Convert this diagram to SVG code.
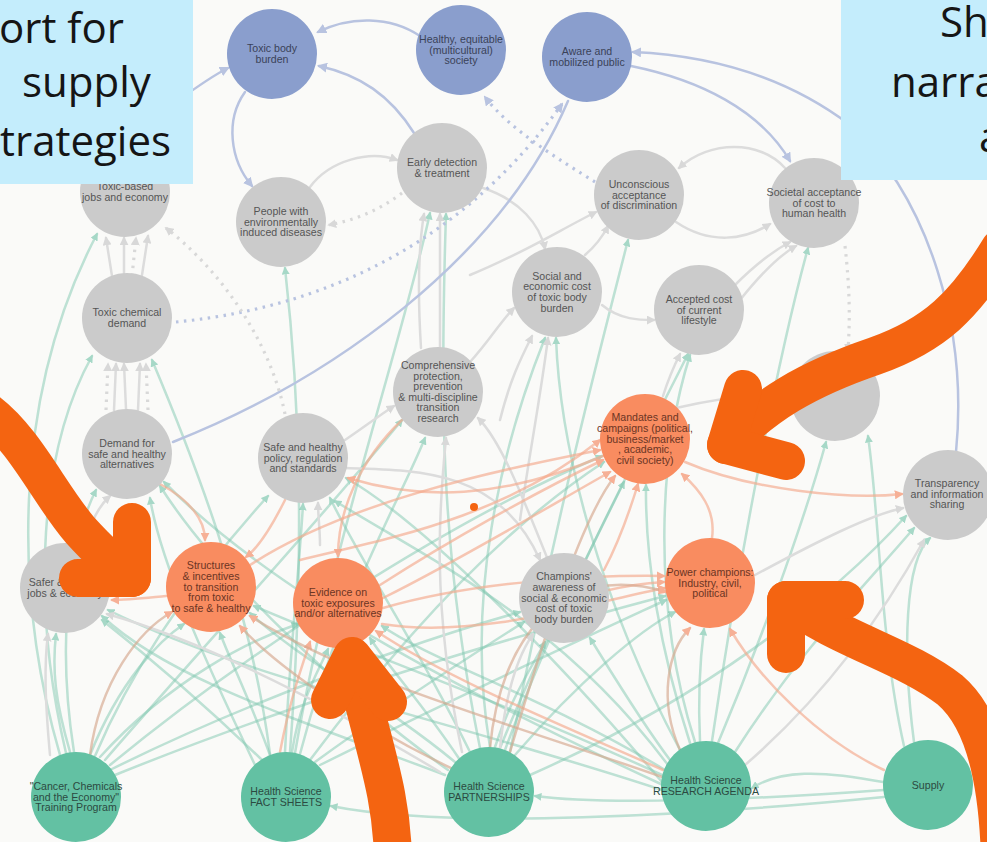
<svg xmlns="http://www.w3.org/2000/svg" width="987" height="842" viewBox="0 0 987 842">
  <style>
    .c { fill: none; stroke-width: 2.5; stroke-linecap: round; }
    .tl { stroke: #7fc8b0; stroke-opacity: 0.5; }
    .gr { stroke: #dcdcdc; }
    .or { stroke: #f4a98c; stroke-opacity: 0.65; }
    .br { stroke: #d6a88e; stroke-opacity: 0.65; }
    .bl { stroke: #b8c3e0; }
    .dg { stroke: #d8d8d8; stroke-width: 3.2; stroke-dasharray: 2.5 5.5; stroke-linecap: butt; }
    .db { stroke: #b8c3e0; stroke-width: 3.2; stroke-dasharray: 2.5 5.5; stroke-linecap: butt; }
    .n text { font-family: "Liberation Sans", Arial, sans-serif; font-size: 10.6px; text-anchor: middle; }
    .blue circle { fill: #8a9ecd; }
    .blue text { fill: #3a4258; }
    .grey circle { fill: #cbcbcb; }
    .grey text { fill: #555555; }
    .orange circle { fill: #f98c60; }
    .orange text { fill: #6b3524; }
    .teal circle { fill: #63c1a3; }
    .teal text { fill: #2c4a41; }
    .note { fill: #c4edfc; }
    .note-text { font-family: "Open Sans", "Liberation Sans", sans-serif; font-size: 42px; fill: #151515; }
    .pen { fill: none; stroke: #f46411; stroke-width: 38; stroke-linecap: round; stroke-linejoin: round; }
  </style>
  <defs>
    <marker id="aT" viewBox="0 0 10 10" refX="8" refY="5" markerWidth="8" markerHeight="8" markerUnits="userSpaceOnUse" orient="auto"><path d="M0,0 L10,5 L0,10 z" fill="#a6d8c7"/></marker>
    <marker id="aG" viewBox="0 0 10 10" refX="8" refY="5" markerWidth="9" markerHeight="9" markerUnits="userSpaceOnUse" orient="auto"><path d="M0,0 L10,5 L0,10 z" fill="#d8d8d8"/></marker>
    <marker id="aO" viewBox="0 0 10 10" refX="8" refY="5" markerWidth="9" markerHeight="9" markerUnits="userSpaceOnUse" orient="auto"><path d="M0,0 L10,5 L0,10 z" fill="#f6b096"/></marker>
    <marker id="aB" viewBox="0 0 10 10" refX="8" refY="5" markerWidth="10" markerHeight="10" markerUnits="userSpaceOnUse" orient="auto"><path d="M0,0 L10,5 L0,10 z" fill="#b8c3e0"/></marker>
  </defs>

  <rect width="987" height="842" fill="#fafaf8"/>

  <!-- connectors -->
  <g id="connectors">
    <!-- teal: program nodes to outcomes -->
    <g class="c tl" marker-end="url(#aT)">
      <path d="M60,755 C15,600 10,400 97,234"/>
      <path d="M66,753 C30,600 40,450 92,356"/>
      <path d="M74,752 C58,650 66,550 96,490"/>
      <path d="M70,752 C55,700 52,670 56,634"/>
      <path d="M90,755 C120,680 160,640 184,624"/>
      <path d="M100,757 C170,680 250,640 298,624"/>
      <path d="M95,756 C140,650 210,560 268,496"/>
      <path d="M105,760 C200,650 320,520 402,420"/>
      <path d="M110,765 C250,650 450,520 602,456"/>
      <path d="M110,770 C250,700 420,640 520,612"/>
      <path d="M115,775 C300,700 500,640 665,596"/>
      <path d="M270,755 C250,700 230,660 220,633"/>
      <path d="M262,760 C200,700 140,650 102,620"/>
      <path d="M255,765 C200,650 160,560 150,498"/>
      <path d="M270,754 C250,600 190,450 152,360"/>
      <path d="M285,752 C290,650 300,560 303,504"/>
      <path d="M290,752 C305,550 300,400 285,268"/>
      <path d="M295,753 C330,550 400,350 430,213"/>
      <path d="M300,754 C340,600 400,500 425,438"/>
      <path d="M292,752 C300,700 318,672 328,649"/>
      <path d="M310,760 C400,640 500,530 604,462"/>
      <path d="M320,765 C450,700 580,640 666,600"/>
      <path d="M315,762 C400,700 480,650 524,622"/>
      <path d="M455,762 C380,700 300,660 250,613"/>
      <path d="M460,760 C420,700 392,672 370,638"/>
      <path d="M495,747 C510,700 530,670 545,642"/>
      <path d="M490,747 C465,600 500,450 545,338"/>
      <path d="M480,748 C440,550 440,400 446,214"/>
      <path d="M500,748 C540,650 590,550 624,482"/>
      <path d="M515,755 C580,680 640,630 675,612"/>
      <path d="M530,775 C700,700 830,600 906,516"/>
      <path d="M505,750 C560,600 640,450 688,354"/>
      <path d="M445,775 C300,720 170,680 102,616"/>
      <path d="M448,770 C350,700 220,580 160,486"/>
      <path d="M470,752 C420,650 360,560 330,498"/>
      <path d="M510,752 C560,500 600,350 628,240"/>
      <path d="M662,775 C500,700 330,640 254,606"/>
      <path d="M665,770 C550,700 430,660 382,626"/>
      <path d="M670,760 C640,720 610,670 590,638"/>
      <path d="M700,741 C698,700 700,660 704,629"/>
      <path d="M690,743 C660,650 645,560 646,485"/>
      <path d="M695,742 C650,600 660,450 690,355"/>
      <path d="M712,741 C740,550 780,350 808,248"/>
      <path d="M718,743 C770,620 810,500 826,442"/>
      <path d="M735,752 C800,650 870,580 914,528"/>
      <path d="M662,782 C550,650 420,520 346,478"/>
      <path d="M680,750 C600,600 560,450 556,338"/>
      <path d="M662,790 C450,720 250,680 108,610"/>
      <path d="M663,785 C480,700 280,600 164,482"/>
      <path d="M668,765 C560,620 430,560 335,501"/>
      <path d="M914,742 C902,650 905,560 930,538"/>
      <path d="M904,746 C880,640 880,520 868,436"/>
      <path d="M884,790 C750,800 600,805 535,796"/>
      <path d="M884,797 C700,815 450,830 331,806"/>
      <path d="M883,782 C820,770 780,770 752,788"/>
    </g>

    <!-- grey feedback links -->
    <g class="c gr" marker-end="url(#aG)">
      <path d="M112,276 L106,238"/>
      <path d="M124,273 L124,238"/>
      <path d="M142,275 L148,236"/>
      <path d="M114,410 L116,364"/>
      <path d="M126,409 L124,364"/>
      <path d="M138,410 L140,364"/>
      <path d="M310,187 C330,160 370,150 397,160"/>
      <path d="M483,188 C520,200 540,225 545,249"/>
      <path d="M785,168 C760,140 710,140 679,168"/>
      <path d="M676,222 C710,245 745,240 770,224"/>
      <path d="M470,275 C520,255 560,230 596,212"/>
      <path d="M585,255 C600,242 605,232 608,226"/>
      <path d="M602,305 C620,320 640,320 654,320"/>
      <path d="M735,285 C755,265 775,250 790,242"/>
      <path d="M740,300 C760,275 780,255 796,246"/>
      <path d="M470,362 C490,340 500,322 514,308"/>
      <path d="M345,440 C360,430 380,415 394,406"/>
      <path d="M676,408 C720,398 760,394 790,394"/>
      <path d="M663,396 C668,380 674,366 680,354"/>
      <path d="M500,748 C505,700 515,660 533,634"/>
      <path d="M440,772 C320,700 200,640 107,614"/>
      <path d="M50,755 C45,700 44,665 48,634"/>
      <path d="M85,548 C90,520 100,505 110,496"/>
      <path d="M421,348 C418,300 418,250 424,214"/>
      <path d="M440,348 C440,300 440,250 440,214"/>
      <path d="M548,560 C520,490 500,440 478,418"/>
      <path d="M462,752 C430,600 440,500 446,438"/>
      <path d="M755,575 C820,540 870,515 903,508"/>
      <path d="M745,765 C820,700 880,620 924,540"/>
      <path d="M500,420 C510,380 520,360 532,336"/>
      <path d="M520,520 C530,450 540,400 548,338"/>
      <path d="M320,545 C320,530 318,515 318,503"/>
      <path d="M345,468 C420,470 500,470 540,560"/>
    </g>

    <!-- orange: leverage links -->
    <g class="c or" marker-end="url(#aO)">
      <path d="M884,770 C820,740 760,680 730,629"/>
      <path d="M712,538 C716,510 700,490 682,474"/>
      <path d="M685,462 C750,490 850,500 902,494"/>
      <path d="M603,456 C500,500 420,500 348,478"/>
      <path d="M402,420 C360,460 338,510 338,556"/>
      <path d="M160,484 C190,500 205,520 205,540"/>
      <path d="M285,500 C270,530 258,548 246,557"/>
      <path d="M166,596 C145,598 128,600 112,600"/>
      <path d="M250,565 C350,500 500,470 600,450"/>
      <path d="M380,585 C450,540 540,490 603,460"/>
      <path d="M383,598 C460,560 560,500 610,472"/>
      <path d="M383,608 C480,580 600,575 664,576"/>
      <path d="M382,624 C480,640 600,600 665,588"/>
      <path d="M609,590 C630,585 650,583 664,582"/>
      <path d="M663,770 C550,720 450,680 376,631"/>
      <path d="M280,752 C290,700 300,672 310,642"/>
      <path d="M300,560 C380,540 500,520 600,440"/>
      <path d="M604,570 C620,540 630,510 638,484"/>
    </g>
    <g class="c br" marker-end="url(#aO)">
      <path d="M680,750 C658,700 668,650 690,628"/>
      <path d="M510,752 C540,650 580,520 615,476"/>
      <path d="M90,755 C100,680 140,630 172,612"/>
      <path d="M455,770 C350,720 270,660 240,626"/>
      <path d="M665,778 C500,720 350,680 250,616"/>
      <path d="M490,748 C500,640 560,560 666,592"/>
    </g>

    <!-- blue: outcome links -->
    <g class="c bl" marker-end="url(#aB)">
      <path d="M245,92 C225,120 230,160 252,186"/>
      <path d="M176,102 C198,86 212,76 228,68"/>
      <path d="M420,36 C390,16 350,16 318,32"/>
      <path d="M414,133 C390,95 360,75 319,66"/>
      <path d="M631,66 C700,80 760,110 790,161"/>
      <path d="M956,452 C968,330 930,200 850,125 C780,72 700,55 633,52"/>
    </g>
    <path class="c bl" d="M173,442 C330,380 500,260 568,101"/>

    <!-- dotted links -->
    <g class="c db" marker-end="url(#aB)">
      <path d="M176,322 C300,310 450,260 562,104"/>
      <path d="M595,182 C560,160 510,130 485,97"/>
    </g>
    <g class="c dg" marker-end="url(#aG)">
      <path d="M402,193 C380,210 355,220 329,225"/>
      <path d="M285,414 C270,340 220,270 166,228"/>
      <path d="M845,246 C850,290 850,320 848,351"/>
      <path d="M106,410 L108,364"/>
      <path d="M148,410 L146,364"/>
      <path d="M132,276 L136,238"/>
    </g>
  </g>

  <!-- nodes -->
  <g id="toxic-body-burden" class="n blue"><circle cx="272" cy="54" r="45"/><text x="272" y="52.3"><tspan x="272">Toxic body</tspan><tspan x="272" dy="10.7">burden</tspan></text></g>
  <g id="healthy-society" class="n blue"><circle cx="461" cy="50" r="45"/><text x="461" y="42.9"><tspan x="461">Healthy, equitable</tspan><tspan x="461" dy="10.7">(multicultural)</tspan><tspan x="461" dy="10.7">society</tspan></text></g>
  <g id="aware-public" class="n blue"><circle cx="587" cy="57" r="45"/><text x="587" y="55.3"><tspan x="587">Aware and</tspan><tspan x="587" dy="10.7">mobilized public</tspan></text></g>

  <g id="early-detection" class="n grey"><circle cx="442" cy="168" r="45"/><text y="166.3"><tspan x="442">Early detection</tspan><tspan x="442" dy="10.7">&amp; treatment</tspan></text></g>
  <g id="unconscious-acceptance" class="n grey"><circle cx="639" cy="195" r="45"/><text y="187.9"><tspan x="639">Unconscious</tspan><tspan x="639" dy="10.7">acceptance</tspan><tspan x="639" dy="10.7">of discrimination</tspan></text></g>
  <g id="societal-acceptance" class="n grey"><circle cx="814" cy="203" r="45"/><text y="195.9"><tspan x="814">Societal acceptance</tspan><tspan x="814" dy="10.7">of cost to</tspan><tspan x="814" dy="10.7">human health</tspan></text></g>
  <g id="toxic-jobs" class="n grey"><circle cx="125" cy="192" r="45"/><text y="190.3"><tspan x="125">Toxic-based</tspan><tspan x="125" dy="10.7">jobs and economy</tspan></text></g>
  <g id="people-diseases" class="n grey"><circle cx="281" cy="222" r="45"/><text y="214.9"><tspan x="281">People with</tspan><tspan x="281" dy="10.7">environmentally</tspan><tspan x="281" dy="10.7">induced diseases</tspan></text></g>
  <g id="social-cost" class="n grey"><circle cx="557" cy="292" r="45"/><text y="279.6"><tspan x="557">Social and</tspan><tspan x="557" dy="10.7">economic cost</tspan><tspan x="557" dy="10.7">of toxic body</tspan><tspan x="557" dy="10.7">burden</tspan></text></g>
  <g id="accepted-cost" class="n grey"><circle cx="699" cy="310" r="45"/><text y="302.9"><tspan x="699">Accepted cost</tspan><tspan x="699" dy="10.7">of current</tspan><tspan x="699" dy="10.7">lifestyle</tspan></text></g>
  <g id="toxic-demand" class="n grey"><circle cx="127" cy="318" r="45"/><text y="316.3"><tspan x="127">Toxic chemical</tspan><tspan x="127" dy="10.7">demand</tspan></text></g>
  <g id="unnamed-factor" class="n grey"><circle cx="835" cy="396" r="45"/></g>
  <g id="comprehensive-protection" class="n grey"><circle cx="438" cy="392" r="45"/><text y="369.4"><tspan x="438">Comprehensive</tspan><tspan x="438" dy="10.5">protection,</tspan><tspan x="438" dy="10.5">prevention</tspan><tspan x="438" dy="10.5">&amp; multi-discipline</tspan><tspan x="438" dy="10.5">transition</tspan><tspan x="438" dy="10.5">research</tspan></text></g>
  <g id="demand-safe" class="n grey"><circle cx="127" cy="454" r="45"/><text y="446.9"><tspan x="127">Demand for</tspan><tspan x="127" dy="10.7">safe and healthy</tspan><tspan x="127" dy="10.7">alternatives</tspan></text></g>
  <g id="safe-policy" class="n grey"><circle cx="303" cy="458" r="45"/><text y="450.9"><tspan x="303">Safe and healthy</tspan><tspan x="303" dy="10.7">policy, regulation</tspan><tspan x="303" dy="10.7">and standards</tspan></text></g>
  <g id="transparency" class="n grey"><circle cx="948" cy="495" r="45"/><text y="486.9"><tspan x="947">Transparency</tspan><tspan x="947" dy="10.7">and information</tspan><tspan x="947" dy="10.7">sharing</tspan></text></g>
  <g id="safer-jobs" class="n grey"><circle cx="65" cy="588" r="45"/><text y="586.3"><tspan x="65">Safer &amp; healthy</tspan><tspan x="65" dy="10.7">jobs &amp; economy</tspan></text></g>
  <g id="champions-awareness" class="n grey"><circle cx="564" cy="598" r="45"/><text y="580.2"><tspan x="564">Champions'</tspan><tspan x="564" dy="10.7">awareness of</tspan><tspan x="564" dy="10.7">social &amp; economic</tspan><tspan x="564" dy="10.7">cost of toxic</tspan><tspan x="564" dy="10.7">body burden</tspan></text></g>

  <g id="mandates-campaigns" class="n orange"><circle cx="645" cy="439" r="45"/><text y="421.2"><tspan x="645">Mandates and</tspan><tspan x="645" dy="10.7">campaigns (political,</tspan><tspan x="645" dy="10.7">business/market</tspan><tspan x="645" dy="10.7">, academic,</tspan><tspan x="645" dy="10.7">civil society)</tspan></text></g>
  <g id="structures-incentives" class="n orange"><circle cx="211" cy="587" r="45"/><text y="569.2"><tspan x="211">Structures</tspan><tspan x="211" dy="10.7">&amp; incentives</tspan><tspan x="211" dy="10.7">to transition</tspan><tspan x="211" dy="10.7">from toxic</tspan><tspan x="211" dy="10.7">to safe &amp; healthy</tspan></text></g>
  <g id="evidence" class="n orange"><circle cx="338" cy="603" r="45"/><text y="595.9"><tspan x="338">Evidence on</tspan><tspan x="338" dy="10.7">toxic exposures</tspan><tspan x="338" dy="10.7">and/or alternatives</tspan></text></g>
  <g id="power-champions" class="n orange"><circle cx="710" cy="583" r="45"/><text y="575.9"><tspan x="710">Power champions:</tspan><tspan x="710" dy="10.7">Industry, civil,</tspan><tspan x="710" dy="10.7">political</tspan></text></g>

  <g id="training-program" class="n teal"><circle cx="76" cy="797" r="45"/><text y="789.9"><tspan x="76">"Cancer, Chemicals</tspan><tspan x="76" dy="10.7">and the Economy"</tspan><tspan x="76" dy="10.7">Training Program</tspan></text></g>
  <g id="fact-sheets" class="n teal"><circle cx="286" cy="797" r="45"/><text y="795.3"><tspan x="286">Health Science</tspan><tspan x="286" dy="10.7">FACT SHEETS</tspan></text></g>
  <g id="partnerships" class="n teal"><circle cx="489" cy="792" r="45"/><text y="790.3"><tspan x="489">Health Science</tspan><tspan x="489" dy="10.7">PARTNERSHIPS</tspan></text></g>
  <g id="research-agenda" class="n teal"><circle cx="706" cy="786" r="45"/><text y="784.3"><tspan x="706">Health Science</tspan><tspan x="706" dy="10.7">RESEARCH AGENDA</tspan></text></g>
  <g id="supply" class="n teal"><circle cx="928" cy="785" r="45"/><text y="788.6"><tspan x="928">Supply</tspan></text></g>

  <!-- marker dot -->
  <circle cx="474" cy="507" r="4" fill="#f46411"/>

  <!-- caption boxes -->
  <rect class="note" x="0" y="0" width="193" height="184"/>
  <text class="note-text" x="-1" y="43">ort for</text>
  <text class="note-text" x="22" y="97">supply</text>
  <text class="note-text" x="0" y="156">trategies</text>
  <rect class="note" x="841" y="0" width="146" height="180"/>
  <text class="note-text" x="940" y="37">Sh</text>
  <text class="note-text" x="891" y="97">narra</text>
  <text class="note-text" x="979" y="152">a</text>

  <!-- hand-drawn highlight arrows -->
  <path class="pen" d="M-12,412 C25,440 50,495 80,530 C100,552 118,568 132,578"/>
  <path class="pen" d="M132,522 L132,578 L78,578"/>
  <path class="pen" d="M1000,248 C965,305 935,335 875,356 C805,380 765,405 726,445"/>
  <path class="pen" d="M743,389 L726,445 L786,461"/>
  <path class="pen" d="M393,860 C392,790 372,745 354,662"/>
  <path class="pen" d="M330,700 L352,656 L388,702"/>
  <path class="pen" d="M1000,860 C998,780 985,720 950,690 C905,655 840,640 786,600"/>
  <path class="pen" d="M786,654 L786,600 L845,600"/>
</svg>
